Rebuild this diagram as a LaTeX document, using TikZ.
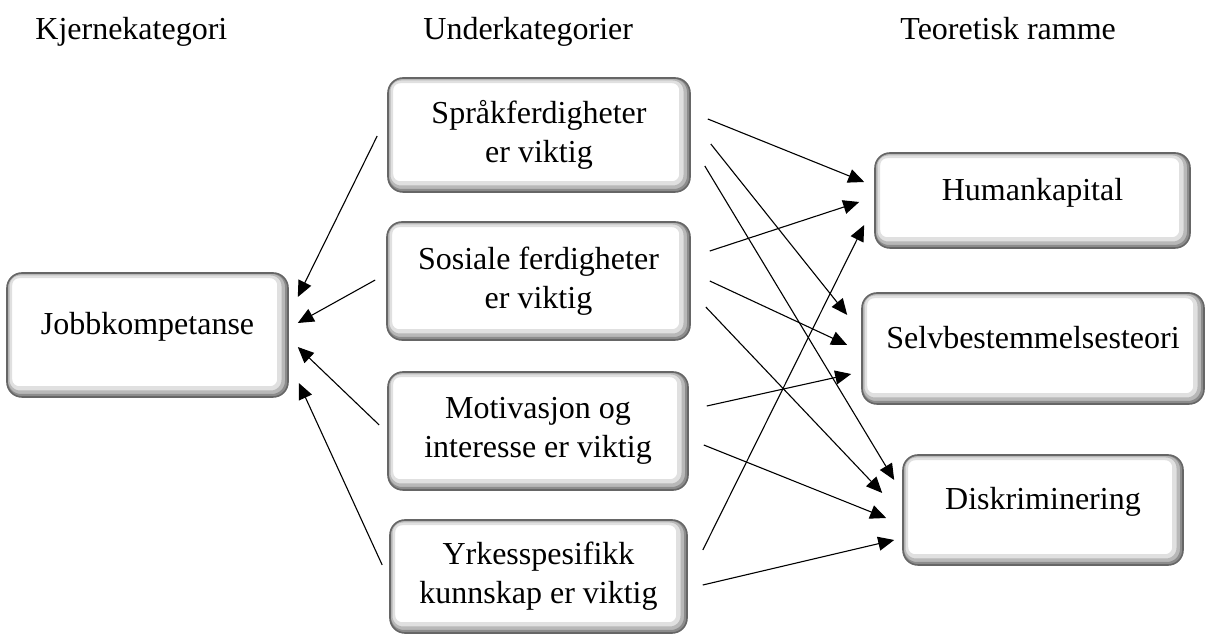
\documentclass[tikz,border=0pt]{standalone}
\usepackage{fontspec}
\setmainfont{Liberation Serif}
\usetikzlibrary{arrows.meta}

\tikzset{
  txt/.style={font=\fontsize{16pt}{19.5pt}\selectfont},
  box/.style={txt, shape=rectangle, rounded corners=7.5pt, inner sep=0pt,
    fill=white, draw=black!60, line width=0.8pt, align=center,
    path picture={
      \draw[black!12, line width=8pt, rounded corners=7.5pt]
        ([shift={(-1.4pt,1.4pt)}]path picture bounding box.south west)
        rectangle ([shift={(-1.4pt,1.4pt)}]path picture bounding box.north east);
      \draw[black!28, line width=4.5pt, rounded corners=7.5pt]
        ([shift={(-1pt,1pt)}]path picture bounding box.south west)
        rectangle ([shift={(-1pt,1pt)}]path picture bounding box.north east);
      \draw[black!45, line width=2pt, rounded corners=7.5pt]
        ([shift={(-0.5pt,0.5pt)}]path picture bounding box.south west)
        rectangle ([shift={(-0.5pt,0.5pt)}]path picture bounding box.north east);
    }},
  oneline/.style={box, text height=0.45em, text depth=0.45em},
  arr/.style={-{Triangle[length=8pt,width=7pt]}, line width=0.55pt, black},
}

\begin{document}
\begin{tikzpicture}[x=0.5pt, y=-0.5pt]
  \useasboundingbox (0,0) rectangle (1206,635);

  % column headings
  \node[txt, anchor=base west, inner sep=0pt] (h1) at (35,40) {Kjernekategori};
  \node[txt, anchor=base west, inner sep=0pt] (h2) at (423,40) {Underkategorier};
  \node[txt, anchor=base west, inner sep=0pt] (h3) at (900,40) {Teoretisk ramme};

  % core category
  \node[oneline, minimum width=140.5pt, minimum height=62pt] (job) at (147.5,335) {Jobbkompetanse};

  % subcategories
  \node[box, minimum width=151pt, minimum height=57pt] (spr) at (539,135) {Språkferdigheter\\er viktig};
  \node[box, minimum width=151.5pt, minimum height=59pt] (sos) at (538.5,281) {Sosiale ferdigheter\\er viktig};
  \node[box, minimum width=150pt, minimum height=59pt] (mot) at (538,431) {Motivasjon og\\interesse er viktig};
  \node[box, minimum width=148.5pt, minimum height=56.5pt] (yrk) at (538.5,576.5) {Yrkesspesifikk\\kunnskap er viktig};

  % theoretical frame
  \node[oneline, minimum width=157.5pt, minimum height=47.5pt] (hum) at (1032.5,200.5) {Humankapital};
  \node[oneline, minimum width=171pt, minimum height=55.5pt] (sel) at (1033,348.5) {Selvbestemmelsesteori};
  \node[oneline, minimum width=140pt, minimum height=55pt] (dis) at (1043,510) {Diskriminering};

  % subcategories -> core category
  \draw[arr] ([shift={(-10,1)}]spr.west) -- ([shift={(9,-38)}]job.east);
  \draw[arr] ([shift={(-11,-1)}]sos.west) -- ([shift={(9,-12)}]job.east);
  \draw[arr] ([shift={(-8,-6)}]mot.west) -- ([shift={(9,12)}]job.east);
  \draw[arr] ([shift={(-7,-11.5)}]yrk.west) -- ([shift={(10,48)}]job.east);

  % subcategories -> theoretical frame
  \draw[arr] ([shift={(17,-16)}]spr.east) -- ([shift={(-10,-18.5)}]hum.west);
  \draw[arr] ([shift={(20,9)}]spr.east) -- ([shift={(-14,-33.5)}]sel.west);
  \draw[arr] ([shift={(14,31)}]spr.east) -- ([shift={(-8,-30)}]dis.west);

  \draw[arr] ([shift={(19,-30)}]sos.east) -- ([shift={(-15,1.5)}]hum.west);
  \draw[arr] ([shift={(19,0)}]sos.east) -- ([shift={(-14,-3.5)}]sel.west);
  \draw[arr] ([shift={(15,26)}]sos.east) -- ([shift={(-20,-17)}]dis.west);

  \draw[arr] ([shift={(18,-25)}]mot.east) -- ([shift={(-10,25.5)}]sel.west);
  \draw[arr] ([shift={(15,14)}]mot.east) -- ([shift={(-16,8)}]dis.west);

  \draw[arr] ([shift={(15,-26.5)}]yrk.east) -- ([shift={(-10,24.5)}]hum.west);
  \draw[arr] ([shift={(15,8.5)}]yrk.east) -- ([shift={(-8,30)}]dis.west);
\end{tikzpicture}
\end{document}
